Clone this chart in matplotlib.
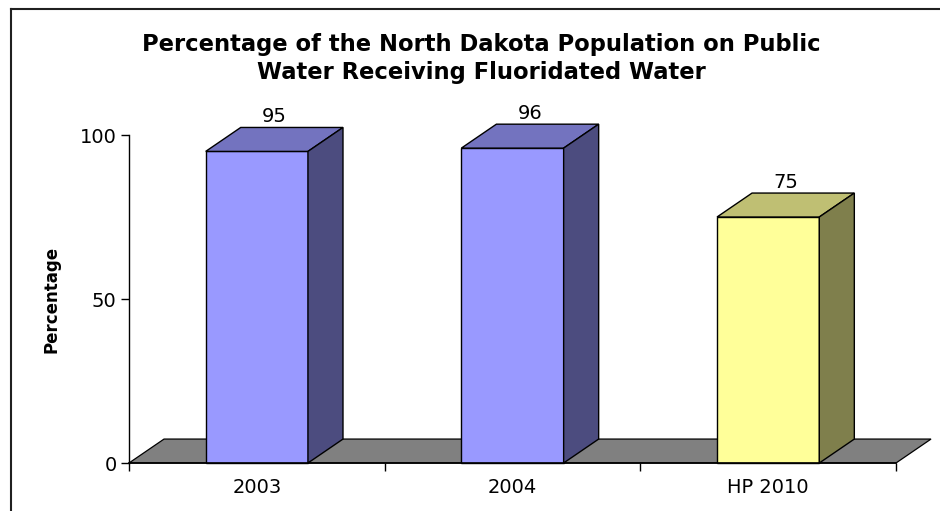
import matplotlib
matplotlib.use("Agg")
import matplotlib.pyplot as plt
from matplotlib.patches import Polygon
from matplotlib.lines import Line2D

categories = ["2003", "2004", "HP 2010"]
values = [95, 96, 75]
front_colors = ["#9999FF", "#9999FF", "#FFFF99"]
top_colors = ["#7373BF", "#7373BF", "#BFBF73"]
side_colors = ["#4C4C7F", "#4C4C7F", "#7F7F4C"]
y_ticks = [0, 50, 100]

plt.rcParams["font.family"] = ["DejaVu Sans"]

fig = plt.figure(figsize=(9.4, 5.11), dpi=100)
ax = fig.add_axes([129 / 940, 48 / 511, 767 / 940, 328 / 511])
ax.set_xlim(0, len(categories))
ax.set_ylim(0, 100)

# depth offset of the pseudo-3D projection (in data units)
dx, dy = 0.137, 7.3
bar_w = 0.40

# floor
floor = Polygon([(0, 0), (dx, dy), (len(categories) + dx, dy), (len(categories), 0)],
                closed=True, facecolor="#808080", edgecolor="black", lw=0.9,
                clip_on=False, zorder=1)
ax.add_patch(floor)

for i, (v, fc, tc, sc) in enumerate(zip(values, front_colors, top_colors, side_colors)):
    x0 = i + 0.5 - bar_w / 2
    x1 = i + 0.5 + bar_w / 2
    front = Polygon([(x0, 0), (x0, v), (x1, v), (x1, 0)], closed=True,
                    facecolor=fc, edgecolor="black", lw=1.0, clip_on=False, zorder=3)
    top = Polygon([(x0, v), (x0 + dx, v + dy), (x1 + dx, v + dy), (x1, v)], closed=True,
                  facecolor=tc, edgecolor="black", lw=1.0, clip_on=False, zorder=3)
    side = Polygon([(x1, 0), (x1, v), (x1 + dx, v + dy), (x1 + dx, dy)], closed=True,
                   facecolor=sc, edgecolor="black", lw=1.0, clip_on=False, zorder=3)
    for p in (front, top, side):
        ax.add_patch(p)
    ax.annotate(f"{v}", xy=(i + 0.5 + dx / 2, v + dy), xytext=(0, 1),
                textcoords="offset points", ha="center", va="bottom",
                fontsize=14, zorder=5, annotation_clip=False)

for s in ("top", "right"):
    ax.spines[s].set_visible(False)
ax.spines["left"].set_linewidth(1.0)
ax.spines["bottom"].set_linewidth(1.2)
ax.spines["bottom"].set_zorder(4)

ax.set_yticks(y_ticks)
ax.set_yticklabels([str(t) for t in y_ticks])
ax.tick_params(axis="y", direction="out", length=6, width=1, labelsize=14, pad=3)

ax.set_xticks([i + 0.5 for i in range(len(categories))])
ax.set_xticklabels(categories)
ax.tick_params(axis="x", which="major", length=0, labelsize=14, pad=11)
ax.set_xticks(range(len(categories) + 1), minor=True)
ax.tick_params(axis="x", which="minor", direction="out", length=6, width=1)

ax.set_ylabel("Percentage", fontsize=12, fontweight="bold")
ax.yaxis.set_label_coords((60 - 129) / 767, 0.5)

fig.text(481 / 940, 1 - 58.5 / 511,
         "Percentage of the North Dakota Population on Public\nWater Receiving Fluoridated Water",
         ha="center", va="center", fontsize=16.3, fontweight="bold", linespacing=1.3)

# outer chart frame
fig.add_artist(Line2D([11 / 940, 11 / 940], [0, 1 - 9 / 511], transform=fig.transFigure,
                      color="#202020", lw=1.5))
fig.add_artist(Line2D([11 / 940, 1], [1 - 9 / 511, 1 - 9 / 511], transform=fig.transFigure,
                      color="#202020", lw=1.5))

fig.savefig("out.png", dpi=100)
